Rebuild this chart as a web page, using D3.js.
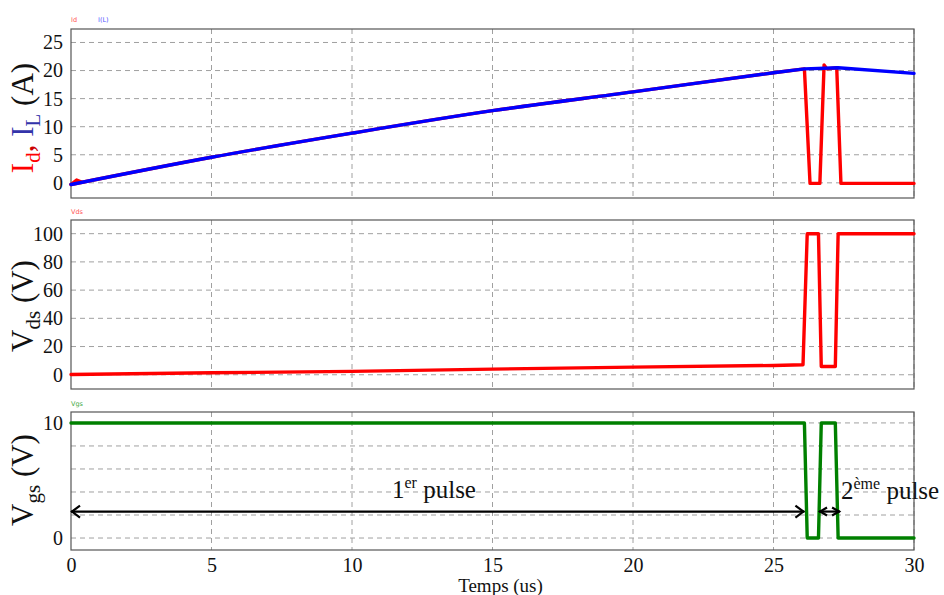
<!DOCTYPE html>
<html><head><meta charset="utf-8">
<script src="https://cdn.jsdelivr.net/npm/d3@7"></script>
<style>body{margin:0;background:#fff}svg{display:block}</style>
</head><body>
<svg id="c" width="944" height="595"></svg>
<script>
// ---- data ----
const xTicks = [0, 5, 10, 15, 20, 25, 30];
// inductor current ramp (shared by Id while the switch is on)
const tRamp = [0, 5, 10, 15, 20, 25, 26.1];
const ramp  = [-0.3, 4.55, 8.85, 12.85, 16.2, 19.6, 20.3];
const tILend = [26.1, 27.3, 30];
const ILend  = [20.3, 20.5, 19.5];
const tIdBlip = [0, 0.2, 0.4];
const IdBlip  = [-0.3, 0.5, 0.1];
const tIdend = [26.1, 26.3, 26.65, 26.8, 26.9, 27.25, 27.4, 30];
const Idend  = [20.3, -0.1, -0.1, 21.0, 20.3, 20.5, -0.1, -0.1];
const tVds = [0, 5, 10, 15, 20, 25, 26.05, 26.2, 26.6, 26.7, 27.2, 27.3, 30];
const Vds  = [0.2, 1.4, 2.4, 4.0, 5.4, 6.6, 7.1, 100, 100, 5.9, 5.9, 100, 100];
const tVgs = [0, 26.1, 26.2, 26.6, 26.7, 27.2, 27.3, 30];
const Vgs  = [10, 10, 0, 0, 10, 10, 0, 0];
const iTicks = [0, 5, 10, 15, 20, 25];
const vdsTicks = [0, 20, 40, 60, 80, 100];
const vgsGrid = [0, 2, 4, 6, 8, 10];
const vgsLabels = [0, 10];
const pulse1 = [0, 26.1], pulse2 = [26.62, 27.37], pulseLevel = 2.3;

const svg = d3.select("#c");
const serif = "'Liberation Serif','Times New Roman',serif";
const x = d3.scaleLinear().domain([0, 30]).range([71, 914]);

const panels = [
  {top: 29, bot: 198, dom: [-2.7, 27.4], grid: iTicks, labels: iTicks},
  {top: 220, bot: 389, dom: [-10.1, 109.7], grid: vdsTicks, labels: vdsTicks},
  {top: 412, bot: 550, dom: [-1.04, 10.95], grid: vgsGrid, labels: vgsLabels}
];
panels.forEach(p => {
  p.y = d3.scaleLinear().domain(p.dom).range([p.bot, p.top]);
  const g = svg.append("g");
  g.selectAll(".hg").data(p.grid).join("line")
    .attr("x1", x(0)).attr("x2", x(30))
    .attr("y1", d => p.y(d)).attr("y2", d => p.y(d))
    .attr("stroke", "#a0a0a0").attr("stroke-dasharray", "5,4").attr("stroke-width", 1);
  g.selectAll(".vg").data(xTicks.slice(1)).join("line")
    .attr("x1", d => x(d)).attr("x2", d => x(d))
    .attr("y1", p.top).attr("y2", p.bot)
    .attr("stroke", "#a0a0a0").attr("stroke-dasharray", "5,4").attr("stroke-width", 1);
  g.append("rect").attr("x", x(0)).attr("y", p.top)
    .attr("width", x(30) - x(0)).attr("height", p.bot - p.top)
    .attr("fill", "none").attr("stroke", "#555").attr("stroke-width", 1.2);
  const ax = svg.append("g").attr("transform", `translate(${x(0)},0)`)
    .call(d3.axisLeft(p.y).tickValues(p.labels).tickSize(0).tickPadding(8).tickFormat(d3.format("d")));
  ax.select(".domain").remove();
  ax.selectAll("text").attr("font-family", serif).attr("font-size", 20).attr("fill", "#111");
});

const xa = svg.append("g").attr("transform", `translate(0,${panels[2].bot})`)
  .call(d3.axisBottom(x).tickValues(xTicks).tickSize(0).tickPadding(8).tickFormat(d3.format("d")));
xa.select(".domain").remove();
xa.selectAll("text").attr("font-family", serif).attr("font-size", 20).attr("fill", "#111");
svg.append("text").attr("x", x(15) + 8).attr("y", 592).attr("text-anchor", "middle")
  .attr("font-family", serif).attr("font-size", 19).attr("fill", "#111").text("Temps (us)");

const line = (ts, vs, ys, curve) => d3.line().curve(curve || d3.curveLinear)
  .x((d, i) => x(ts[i])).y(d => ys(d))(vs);
const P1 = panels[0], P2 = panels[1], P3 = panels[2];
const draw = (d, col) => svg.append("path").attr("d", d).attr("fill", "none").attr("stroke", col)
  .attr("stroke-width", 3.4).attr("stroke-linejoin", "round").attr("stroke-linecap", "round");
draw(line(tIdBlip, IdBlip, P1.y), "#ff0000");
draw(line(tRamp, ramp, P1.y, d3.curveMonotoneX) + line(tIdend, Idend, P1.y), "#ff0000");
draw(line(tRamp, ramp, P1.y, d3.curveMonotoneX) + line(tILend, ILend, P1.y), "#0000ff");
draw(line(tVds, Vds, P2.y), "#ff0000");
draw(line(tVgs, Vgs, P3.y), "#008000");

const leg = (tx, ty, txt, col) => svg.append("text").attr("x", tx).attr("y", ty)
  .attr("font-family", "'DejaVu Sans',sans-serif").attr("font-size", 6.5).attr("fill", col).text(txt);
leg(71, 22, "Id", "#ff5555");
leg(98, 22, "I(L)", "#5555ff");
leg(71, 214, "Vds", "#ff5555");
leg(71, 406, "Vgs", "#44aa44");

function ytitle(cx, cy, parts) {
  const t = svg.append("text").attr("transform", `translate(${cx},${cy}) rotate(-90)`)
    .attr("text-anchor", "middle").attr("font-family", serif);
  parts.forEach(p => {
    const s = t.append("tspan").attr("font-size", p.sub ? 21 : 31).attr("fill", p.c || "#111").text(p.t);
    if (p.sub) s.attr("dy", 7); else if (p.after) s.attr("dy", -7);
  });
}
ytitle(33, 118, [{t: "I", c: "#ff0000"}, {t: "d", c: "#ff0000", sub: 1}, {t: ", ", c: "#cc0000", after: 1},
  {t: "I", c: "#3333aa"}, {t: "L", c: "#3333aa", sub: 1}, {t: " (A)", after: 1}]);
ytitle(33, 306, [{t: "V"}, {t: "ds", sub: 1}, {t: " (V)", after: 1}]);
ytitle(33, 480, [{t: "V"}, {t: "gs", sub: 1}, {t: " (V)", after: 1}]);

const ay = P3.y(pulseLevel);
function dblArrow(x1, x2, h, w) {
  svg.append("line").attr("x1", x1).attr("x2", x2).attr("y1", ay).attr("y2", ay)
    .attr("stroke", "#000").attr("stroke-width", 2.2);
  svg.append("path").attr("d", `M${x1 + h},${ay - w}L${x1 + 1},${ay}L${x1 + h},${ay + w}`)
    .attr("fill", "none").attr("stroke", "#000").attr("stroke-width", 2.2);
  svg.append("path").attr("d", `M${x2 - h},${ay - w}L${x2 - 1},${ay}L${x2 - h},${ay + w}`)
    .attr("fill", "none").attr("stroke", "#000").attr("stroke-width", 2.2);
}
dblArrow(x(pulse1[0]), x(pulse1[1]), 9, 6);
dblArrow(x(pulse2[0]), x(pulse2[1]), 8, 4);

function pulseLabel(cx, by, num, sup) {
  const t = svg.append("text").attr("x", cx).attr("y", by).attr("font-family", serif).attr("fill", "#111");
  t.append("tspan").attr("font-size", 25).text(num);
  t.append("tspan").attr("font-size", 16).attr("dy", -10).text(sup);
  t.append("tspan").attr("font-size", 25).attr("dy", 10).text(" pulse");
}
pulseLabel(392, 498, "1", "er");
pulseLabel(841, 499, "2", "ème");
</script>
</body></html>
